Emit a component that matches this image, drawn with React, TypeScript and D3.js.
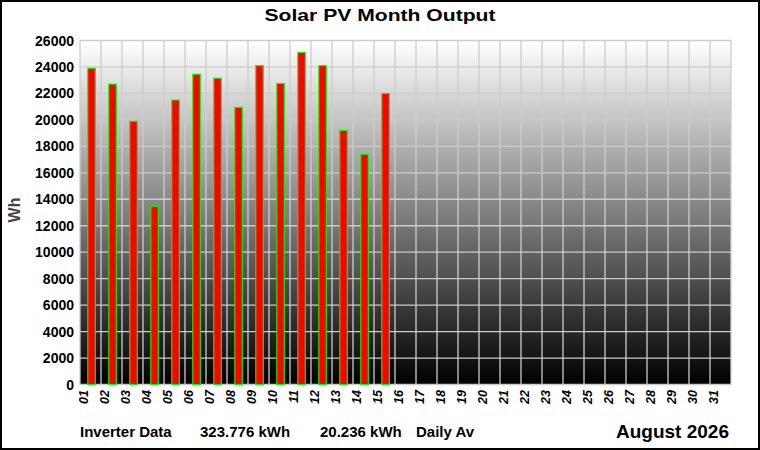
import * as d3 from "d3";

// day labels along the x axis
const days = [
  "01", "02", "03", "04", "05", "06", "07", "08", "09", "10",
  "11", "12", "13", "14", "15", "16", "17", "18", "19", "20",
  "21", "22", "23", "24", "25", "26", "27", "28", "29", "30", "31",
];

// daily output in Wh (days recorded so far)
const output = [
  23900, 22700, 19900, 13470, 21500, 23450, 23150, 20950,
  24100, 22750, 25100, 24100, 19200, 17400, 22000,
];

const yTicks = [0, 2000, 4000, 6000, 8000, 10000, 12000, 14000, 16000, 18000, 20000, 22000, 24000, 26000];

const W = 760;
const H = 450;
const margin = { top: 40.5, right: 29, bottom: 65.5, left: 80 };

const App = () => {
  const x = d3
    .scaleBand<string>()
    .domain(days)
    .range([margin.left, W - margin.right]);
  const y = d3
    .scaleLinear()
    .domain([0, 26000])
    .range([H - margin.bottom, margin.top]);

  const font = "'Liberation Sans', Arial, sans-serif";
  const bw = x.bandwidth();

  return (
    <svg
      width={W}
      height={H}
      style={{ position: "absolute", left: 0, top: 0, background: "#fff" }}
      fontFamily={font}
    >
      <defs>
        <linearGradient id="plotBg" x1="0" y1="0" x2="0" y2="1">
          <stop offset="0" stopColor="#ffffff" />
          <stop offset="1" stopColor="#000000" />
        </linearGradient>
      </defs>

      <rect x={1} y={1} width={W - 2} height={H - 2} fill="#fff" stroke="#000" strokeWidth={2} />

      <text x={380} y={21} textAnchor="middle" fontSize={17} fontWeight="bold" textLength={231} lengthAdjust="spacingAndGlyphs">
        Solar PV Month Output
      </text>

      {/* plot area */}
      <rect
        x={margin.left}
        y={margin.top}
        width={W - margin.left - margin.right}
        height={H - margin.top - margin.bottom}
        fill="url(#plotBg)"
      />

      {/* grid */}
      <g stroke="#cccccc" strokeWidth={1.3}>
        {yTicks.map((t) => (
          <line key={t} x1={margin.left} x2={W - margin.right} y1={y(t)} y2={y(t)} />
        ))}
        {days.map((d) => (
          <line key={d} x1={x(d)!} x2={x(d)!} y1={margin.top} y2={H - margin.bottom} />
        ))}
        <line x1={W - margin.right} x2={W - margin.right} y1={margin.top} y2={H - margin.bottom} />
      </g>

      {/* bars */}
      <g>
        {output.map((v, i) => (
          <rect
            key={days[i]}
            x={x(days[i])! + 7.8}
            y={y(v)}
            width={7.5}
            height={y(0) - y(v)}
            fill="#ff0000"
            stroke="#00ff00"
            strokeWidth={1.1}
          />
        ))}
      </g>

      {/* y axis labels */}
      <g fontSize={14} fontWeight="bold" textAnchor="end">
        {yTicks.map((t) => (
          <text key={t} x={74} y={y(t)} dy="0.36em">
            {t}
          </text>
        ))}
      </g>
      <text
        transform="translate(20,210) rotate(-90)"
        textAnchor="middle"
        fontSize={16}
        fontWeight="bold"
        fill="#444"
      >
        Wh
      </text>

      {/* x axis labels */}
      <g fontSize={12.5} fontWeight="bold" fontStyle="italic" textAnchor="end">
        {days.map((d) => (
          <text key={d} transform={`translate(${x(d)! + bw * 0.36},390) rotate(-90)`}>
            {d}
          </text>
        ))}
      </g>

      {/* footer */}
      <g fontSize={15} fontWeight="bold">
        <text x={80} y={437}>Inverter Data</text>
        <text x={200} y={437}>323.776 kWh</text>
        <text x={320} y={437}>20.236 kWh</text>
        <text x={416} y={437}>Daily Av</text>
      </g>
      <text x={729} y={438} textAnchor="end" fontSize={19} fontWeight="bold">
        August 2026
      </text>
    </svg>
  );
};

export default App;
